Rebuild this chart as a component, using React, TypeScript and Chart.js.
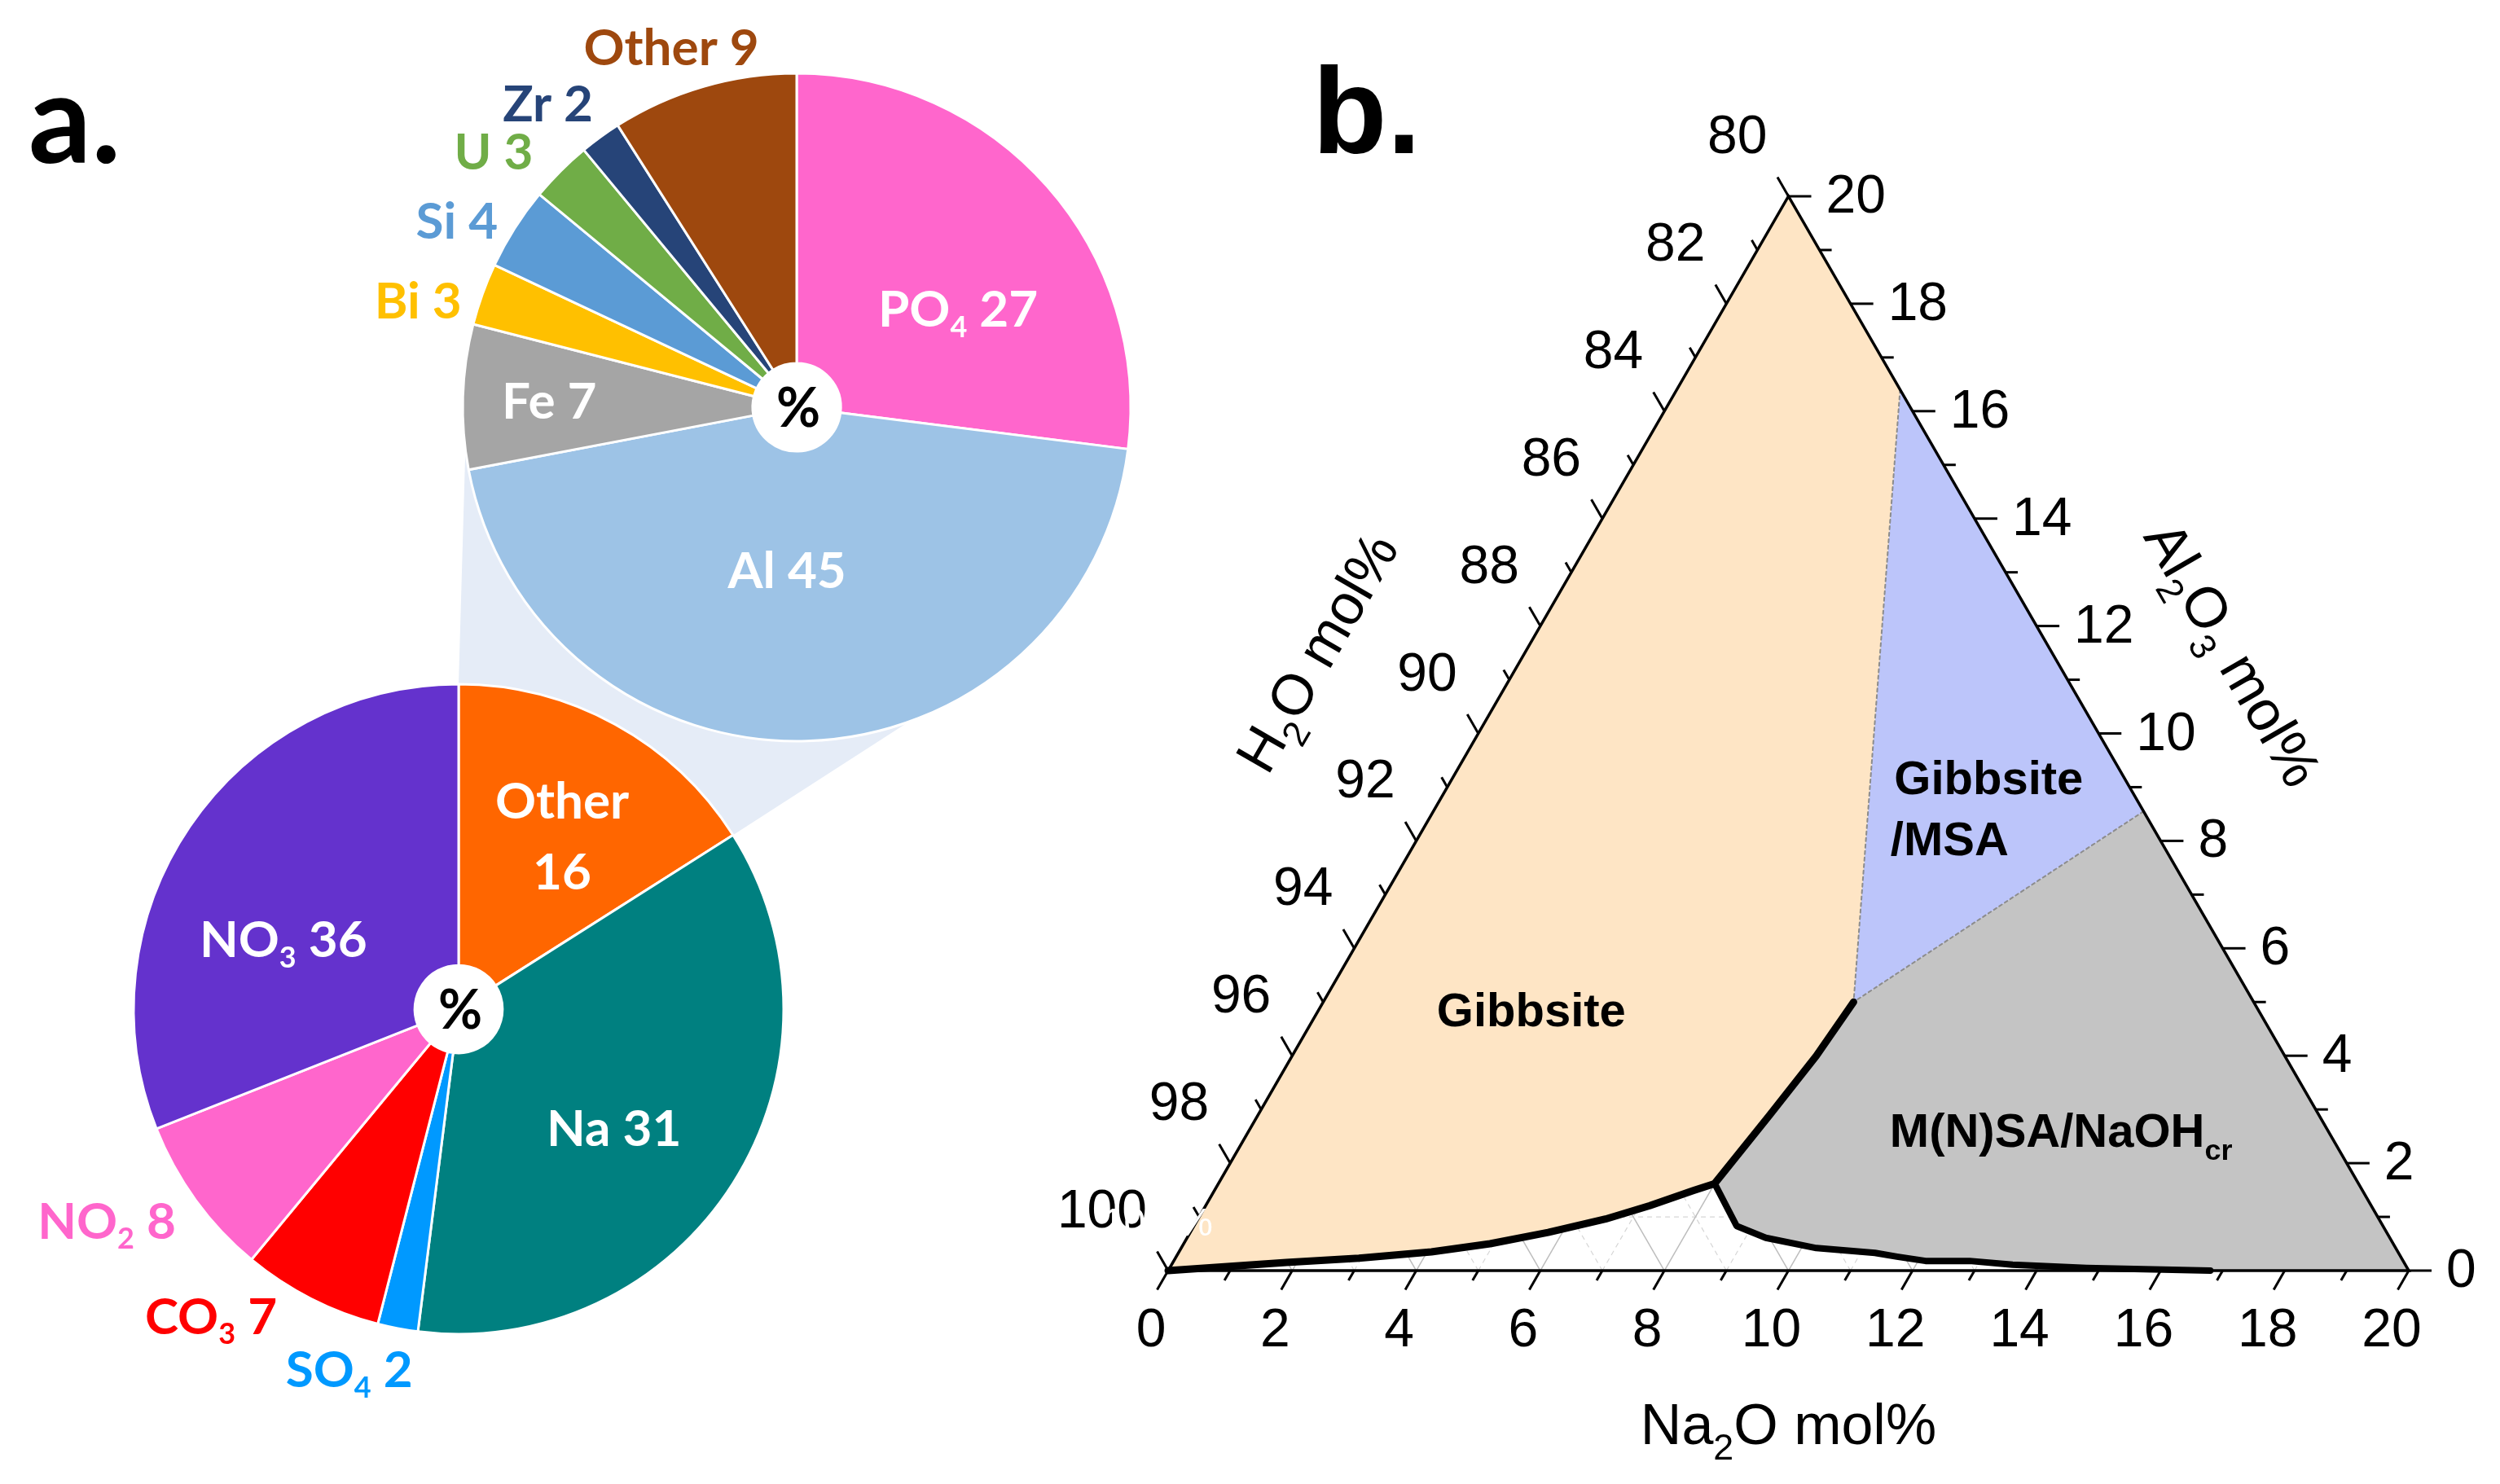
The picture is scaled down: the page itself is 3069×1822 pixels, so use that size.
import React, { useEffect, useRef } from 'react';
import { Chart, registerables } from 'chart.js';

Chart.register(...registerables);

/* ================= panel a : composition pies (values in %) ================= */
const topCategories = ['PO4', 'Al', 'Fe', 'Bi', 'Si', 'U', 'Zr', 'Other'];
const topValues = [27, 45, 7, 3, 4, 3, 2, 9];
const topColors = ['#FF66CC', '#9DC3E6', '#A5A5A5', '#FFC000', '#5B9BD5', '#70AD47', '#264478', '#9E480E'];

const bottomCategories = ['Other', 'Na', 'SO4', 'CO3', 'NO2', 'NO3'];
// slice sizes as drawn in the reference picture
const bottomValues = [16, 36, 2, 7, 8, 31];
// numbers printed on the reference's labels (Na / NO3 appear swapped there)
const bottomPrinted = [16, 31, 2, 7, 8, 36];
const bottomColors = ['#FF6600', '#008080', '#0099FF', '#FF0000', '#FF66CC', '#6432CD'];

/* ================= panel b : ternary H2O - Na2O - Al2O3 (mol%) ================= */
const na2oTicks = [0, 2, 4, 6, 8, 10, 12, 14, 16, 18, 20];
const al2o3Ticks = [0, 2, 4, 6, 8, 10, 12, 14, 16, 18, 20];
const h2oTicks = [80, 82, 84, 86, 88, 90, 92, 94, 96, 98, 100];

// corners: H2O corner, Na2O corner, Al2O3 corner  (Na2O, Al2O3)
const cornerNa = [0, 20, 0];
const cornerAl = [0, 0, 20];
// gibbsite solubility boundary, H2O corner -> cusp
const gibbsiteLowNa = [0, 1.83, 2.96, 4.07, 4.94, 5.77, 6.57, 7.16, 7.72, 8.0];
const gibbsiteLowAl = [0, 0.15, 0.23, 0.35, 0.5, 0.71, 0.96, 1.21, 1.49, 1.62];
// cusp -> invariant point
const gibbsiteHighNa = [8.0, 8.25, 8.45, 8.55];
const gibbsiteHighAl = [1.62, 2.9, 4.0, 5.0];
// sodium aluminate / NaOH boundary, cusp -> Na2O axis
const naohNa = [8.0, 8.75, 9.33, 10.24, 11.23, 11.62, 12.12, 12.83, 13.56, 14.78, 16.8];
const naohAl = [1.62, 0.83, 0.61, 0.42, 0.33, 0.26, 0.18, 0.18, 0.11, 0.05, 0];
// dotted limits of the Gibbsite/MSA field: edge -> invariant point -> edge
const msaNa = [3.6, 8.55, 11.45];
const msaAl = [16.4, 5.0, 8.55];

/* ================= layout (page pixels) ================= */
const PAGE_W = 3069;
const PAGE_H = 1822;
const TOP_PIE = { cx: 978, cy: 500, r: 410, hole: '13.2%' };
const BOT_PIE = { cx: 563, cy: 1239, r: 399, hole: '13.5%' };
const TOP_CANVAS = { w: 1450, h: 1000 };
const BOT_CANVAS = { w: 1300, h: 1822 };
const TERN_CANVAS = { left: 1290, w: 1779, h: 1822 };
const TERN_AREA = { left: 1434, right: 2957, top: 241, bottom: 1560 };
const HALF = 450;

// label placement: [angle from 12 o'clock (deg, clockwise), radius fraction]
const topLabelPolar = [[58.6, 0.566], [183.4, 0.488], [271.5, 0.741], [285.8, 1.178], [298.8, 1.161], [310.2, 1.188], [320.7, 1.176], [340.8, 1.141]];
const topLabelInside = [true, true, true, false, false, false, false, false];
const bottomLabelPolar = [[30.8, 0.622], [127.4, 0.602], [196.9, 1.158], [218.9, 1.213], [239, 1.263], [291.8, 0.581]];
const bottomLabelInside = [true, true, false, false, false, true];
const CONNECTOR_TOP_ANGLES = [160.4, 280.6];

type Font = { family: string; weight: string; size: number; subScale: number; subDrop: number };
type Part = { t: string; sub?: boolean };

const LATO = 'Lato, "Open Sans", "DejaVu Sans", sans-serif';
const ARIAL = '"Liberation Sans", Arial, "DejaVu Sans", sans-serif';
const PIE_FONT: Font = { family: LATO, weight: 'bold', size: 62, subScale: 0.58, subDrop: 0.2 };
const TICK_FONT: Font = { family: ARIAL, weight: 'normal', size: 66, subScale: 0.64, subDrop: 0.27 };
const TITLE_FONT: Font = { family: ARIAL, weight: 'normal', size: 70, subScale: 0.64, subDrop: 0.27 };
const REGION_FONT: Font = { family: ARIAL, weight: 'bold', size: 58, subScale: 0.62, subDrop: 0.28 };

const fontStr = (f: Font, size: number) => `${f.weight} ${size}px ${f.family}`;

function chem(s: string): Part[] {
  const out: Part[] = [];
  for (let i = 0; i < s.length; i++) {
    const c = s[i];
    const sub = /\d/.test(c) && i > 0 && /[A-Za-z]/.test(s[i - 1]);
    const last = out[out.length - 1];
    if (last && !!last.sub === sub) last.t += c;
    else out.push({ t: c, sub });
  }
  return out;
}

function partsWidth(ctx: CanvasRenderingContext2D, parts: Part[], f: Font) {
  let w = 0;
  for (const p of parts) {
    ctx.font = fontStr(f, p.sub ? f.size * f.subScale : f.size);
    w += ctx.measureText(p.t).width;
  }
  return w;
}

function drawParts(ctx: CanvasRenderingContext2D, parts: Part[], x: number, y: number, f: Font, align: 'left' | 'center' | 'right') {
  const w = partsWidth(ctx, parts, f);
  let cx = align === 'center' ? x - w / 2 : align === 'right' ? x - w : x;
  ctx.textAlign = 'left';
  ctx.textBaseline = 'alphabetic';
  for (const p of parts) {
    ctx.font = fontStr(f, p.sub ? f.size * f.subScale : f.size);
    ctx.fillText(p.t, cx, y + (p.sub ? f.size * f.subDrop : 0));
    cx += ctx.measureText(p.t).width;
  }
}

function pieLabels(names: string[], printed: number[], colors: string[], polar: number[][], inside: boolean[], twoLine: number) {
  return {
    id: 'pieLabels',
    afterDatasetsDraw(chart: any) {
      const ctx: CanvasRenderingContext2D = chart.ctx;
      const a0 = chart.getDatasetMeta(0).data[0];
      const cx = a0.x;
      const cy = a0.y;
      const r = a0.outerRadius;
      const capMid = PIE_FONT.size * 0.358;
      ctx.save();
      names.forEach((name, i) => {
        const [deg, rf] = polar[i];
        const t = (deg * Math.PI) / 180;
        const px = cx + rf * r * Math.sin(t);
        const py = cy - rf * r * Math.cos(t);
        ctx.fillStyle = inside[i] ? '#FFFFFF' : colors[i];
        if (i === twoLine) {
          drawParts(ctx, chem(name), px, py - 43 + capMid, PIE_FONT, 'center');
          drawParts(ctx, [{ t: String(printed[i]) }], px, py + 44 + capMid, PIE_FONT, 'center');
        } else {
          drawParts(ctx, [...chem(name), { t: ' ' + printed[i] }], px, py + capMid, PIE_FONT, 'center');
        }
      });
      ctx.fillStyle = '#000000';
      drawParts(ctx, [{ t: '%' }], cx + 2, cy + 66 * 0.358, { ...PIE_FONT, size: 66 }, 'center');
      ctx.restore();
    },
  };
}

const connectorPlugin = {
  id: 'connector',
  beforeDatasetsDraw(chart: any) {
    const ctx: CanvasRenderingContext2D = chart.ctx;
    const a0 = chart.getDatasetMeta(0).data[0];
    const { x, y, outerRadius: r, startAngle: s, endAngle: e } = a0;
    const tpt = (deg: number) => {
      const t = (deg * Math.PI) / 180;
      return [TOP_PIE.cx + TOP_PIE.r * Math.sin(t), TOP_PIE.cy - TOP_PIE.r * Math.cos(t)];
    };
    const C = tpt(CONNECTOR_TOP_ANGLES[0]);
    const D = tpt(CONNECTOR_TOP_ANGLES[1]);
    ctx.save();
    ctx.fillStyle = '#E5ECF7';
    ctx.beginPath();
    ctx.moveTo(x + r * Math.cos(s), y + r * Math.sin(s));
    ctx.lineTo(x + r * Math.cos(e), y + r * Math.sin(e));
    ctx.lineTo(C[0], C[1]);
    ctx.lineTo(D[0], D[1]);
    ctx.closePath();
    ctx.fill();
    ctx.restore();
  },
  afterDraw(chart: any) {
    const ctx: CanvasRenderingContext2D = chart.ctx;
    ctx.save();
    ctx.fillStyle = '#000000';
    ctx.font = `bold 152px ${LATO}`;
    ctx.textAlign = 'left';
    ctx.textBaseline = 'alphabetic';
    ctx.fillText('a.', 35, 200);
    ctx.restore();
  },
};

/* ================= ternary helpers ================= */
const SQ3 = Math.sqrt(3);
const toXY = (na: number, al: number) => ({ x: na + al / 2, y: (al * SQ3) / 2 });
const series = (na: number[], al: number[]) => na.map((n, i) => toXY(n, al[i]));
function rev(a: any[]) {
  return a.slice().reverse();
}

const gibbsiteRegion = [
  toXY(cornerNa[0], cornerAl[0]),
  toXY(cornerNa[2], cornerAl[2]),
  toXY(msaNa[0], msaAl[0]),
  ...rev(series(gibbsiteHighNa, gibbsiteHighAl)),
  ...rev(series(gibbsiteLowNa, gibbsiteLowAl)),
];
const msaRegion = [toXY(msaNa[0], msaAl[0]), toXY(msaNa[2], msaAl[2]), toXY(msaNa[1], msaAl[1])];
const greyRegion = [
  toXY(msaNa[2], msaAl[2]),
  toXY(cornerNa[1], cornerAl[1]),
  ...rev(series(naohNa, naohAl)),
  ...series(gibbsiteHighNa, gibbsiteHighAl),
];
const gibbsiteCurve = [...series(gibbsiteLowNa, gibbsiteLowAl), ...series(gibbsiteHighNa, gibbsiteHighAl).slice(1)];
const naohCurve = series(naohNa, naohAl);
const msaLine = series(msaNa, msaAl);

// region names anchored at ternary (Na2O, Al2O3) positions (text baseline)
const regionTexts: { parts: Part[]; na: number; al: number; align: 'left' | 'center' }[] = [
  { parts: [{ t: 'Gibbsite' }], na: 3.58, al: 4.55, align: 'center' },
  { parts: [{ t: 'Gibbsite' }], na: 7.27, al: 8.87, align: 'left' },
  { parts: [{ t: '/MSA' }], na: 7.78, al: 7.73, align: 'left' },
  { parts: [{ t: 'M(N)SA/NaOH' }, { t: 'cr', sub: true }], na: 10.48, al: 2.305, align: 'left' },
];

function tpOf(chart: any) {
  const xs = chart.scales.x;
  const ys = chart.scales.y;
  return (na: number, al: number) => {
    const p = toXY(na, al);
    return { x: xs.getPixelForValue(p.x), y: ys.getPixelForValue(p.y) };
  };
}

const ternaryPlugin = {
  id: 'ternaryAxes',
  beforeDatasetsDraw(chart: any) {
    const ctx: CanvasRenderingContext2D = chart.ctx;
    const tp = tpOf(chart);
    const max = na2oTicks[na2oTicks.length - 1];
    const seg = (a: any, b: any) => {
      ctx.beginPath();
      ctx.moveTo(a.x, a.y);
      ctx.lineTo(b.x, b.y);
      ctx.stroke();
    };
    ctx.save();
    for (let k = 1; k < max; k++) {
      const major = na2oTicks.includes(k);
      ctx.strokeStyle = major ? '#BDBDBD' : '#D6D6D6';
      ctx.lineWidth = major ? 1.5 : 1.2;
      ctx.setLineDash(major ? [] : [6, 5]);
      seg(tp(k, 0), tp(k, max - k));
      seg(tp(0, k), tp(max - k, k));
      seg(tp(k, 0), tp(0, k));
    }
    ctx.restore();
  },
  afterDatasetsDraw(chart: any) {
    const ctx: CanvasRenderingContext2D = chart.ctx;
    const tp = tpOf(chart);
    const area = chart.chartArea;
    const max = na2oTicks[na2oTicks.length - 1];
    ctx.save();
    // triangle
    ctx.strokeStyle = '#000000';
    ctx.lineWidth = 3.5;
    ctx.lineJoin = 'miter';
    const c0 = tp(cornerNa[0], cornerAl[0]);
    const c1 = tp(cornerNa[1], cornerAl[1]);
    const c2 = tp(cornerNa[2], cornerAl[2]);
    ctx.beginPath();
    ctx.moveTo(c0.x, c0.y);
    ctx.lineTo(c1.x, c1.y);
    ctx.lineTo(c2.x, c2.y);
    ctx.closePath();
    ctx.stroke();

    // ticks
    ctx.lineWidth = 3;
    ctx.lineCap = 'butt';
    const tick = (b: any, dx: number, dy: number, len: number) => {
      ctx.beginPath();
      ctx.moveTo(b.x, b.y);
      ctx.lineTo(b.x + dx * len, b.y + dy * len);
      ctx.stroke();
    };
    for (let v = 0; v <= max; v++) {
      const major = na2oTicks.includes(v);
      const L = major ? 27 : 14;
      tick(tp(v, 0), -0.5, 0.866, L); // Na2O axis
      tick(tp(max - v, v), 1, 0, major ? 28 : 15); // Al2O3 axis
      tick(tp(0, v), -0.5, -0.866, L); // H2O axis
    }

    // tick labels
    ctx.fillStyle = '#000000';
    na2oTicks.forEach((v) => {
      const b = tp(v, 0);
      drawParts(ctx, [{ t: String(v) }], b.x - 21, b.y + 93, TICK_FONT, 'center');
    });
    al2o3Ticks.forEach((v) => {
      const b = tp(max - v, v);
      drawParts(ctx, [{ t: String(v) }], b.x + 46, b.y + 20, TICK_FONT, 'left');
    });
    h2oTicks.forEach((h) => {
      const b = tp(0, 100 - h);
      drawParts(ctx, [{ t: String(h) }], b.x - 26, b.y - 53, TICK_FONT, 'right');
    });

    // axis titles
    const bm = tp(max / 2, 0);
    drawParts(ctx, chem('Na2O mol%'), bm.x, area.bottom + 213, TITLE_FONT, 'center');
    const lm = tp(0, max / 2);
    ctx.save();
    ctx.translate(lm.x - 199, lm.y - 100);
    ctx.rotate(-Math.PI / 3);
    drawParts(ctx, chem('H2O mol%'), 0, TITLE_FONT.size * 0.358, TITLE_FONT, 'center');
    ctx.restore();
    const rm = tp(max / 2, max / 2);
    ctx.save();
    ctx.translate(rm.x + 166, rm.y - 98);
    ctx.rotate(Math.PI / 3);
    drawParts(ctx, chem('Al2O3 mol%'), 0, TITLE_FONT.size * 0.358, TITLE_FONT, 'center');
    ctx.restore();

    // region names
    regionTexts.forEach((r) => {
      const p = tp(r.na, r.al);
      drawParts(ctx, r.parts, p.x, p.y, REGION_FONT, r.align);
    });

    // stray white glyphs next to the "100" label in the reference
    ctx.fillStyle = '#FFFFFF';
    ctx.font = `normal 48px ${ARIAL}`;
    ctx.textAlign = 'right';
    ctx.fillText('100 %', c0.x + 55, c0.y - 43);

    // panel letter
    ctx.fillStyle = '#000000';
    ctx.font = `bold 150px ${ARIAL}`;
    ctx.textAlign = 'left';
    ctx.fillText('b.', 1611 - TERN_CANVAS.left, 188);
    ctx.restore();
  },
};

function lineSet(data: any[], extra: any) {
  return {
    data,
    pointRadius: 0,
    tension: 0,
    clip: false,
    borderJoinStyle: 'round',
    borderCapStyle: 'round',
    ...extra,
  };
}

export default function App() {
  const refA = useRef<HTMLCanvasElement>(null);
  const refB = useRef<HTMLCanvasElement>(null);
  const refC = useRef<HTMLCanvasElement>(null);

  useEffect(() => {
    const charts: Chart[] = [];
    const common = {
      animation: false as const,
      responsive: false,
      devicePixelRatio: 1,
      events: [] as any[],
      plugins: { legend: { display: false }, tooltip: { enabled: false } },
    };

    // bottom pie (+ connector band and panel letter)
    charts.push(
      new Chart(refA.current as HTMLCanvasElement, {
        type: 'doughnut',
        data: {
          labels: bottomCategories,
          datasets: [{ data: bottomValues, backgroundColor: bottomColors, borderColor: '#FFFFFF', borderWidth: 3 }],
        },
        options: {
          ...common,
          radius: BOT_PIE.r,
          cutout: BOT_PIE.hole,
          layout: {
            padding: {
              left: BOT_PIE.cx - HALF,
              right: BOT_CANVAS.w - BOT_PIE.cx - HALF,
              top: BOT_PIE.cy - HALF,
              bottom: BOT_CANVAS.h - BOT_PIE.cy - HALF,
            },
          },
        } as any,
        plugins: [connectorPlugin, pieLabels(bottomCategories, bottomPrinted, bottomColors, bottomLabelPolar, bottomLabelInside, 0)],
      })
    );

    // top pie
    charts.push(
      new Chart(refB.current as HTMLCanvasElement, {
        type: 'doughnut',
        data: {
          labels: topCategories,
          datasets: [{ data: topValues, backgroundColor: topColors, borderColor: '#FFFFFF', borderWidth: 3 }],
        },
        options: {
          ...common,
          radius: TOP_PIE.r,
          cutout: TOP_PIE.hole,
          layout: {
            padding: {
              left: TOP_PIE.cx - HALF,
              right: TOP_CANVAS.w - TOP_PIE.cx - HALF,
              top: TOP_PIE.cy - HALF,
              bottom: TOP_CANVAS.h - TOP_PIE.cy - HALF,
            },
          },
        } as any,
        plugins: [pieLabels(topCategories, topValues, topColors, topLabelPolar, topLabelInside, -1)],
      })
    );

    // ternary diagram
    const maxX = na2oTicks[na2oTicks.length - 1];
    charts.push(
      new Chart(refC.current as HTMLCanvasElement, {
        type: 'line',
        data: {
          datasets: [
            lineSet(gibbsiteCurve, { label: 'boundary', borderColor: '#000000', borderWidth: 9, fill: false, order: 1 }),
            lineSet(naohCurve, { label: 'boundary2', borderColor: '#000000', borderWidth: 8, fill: false, order: 1 }),
            lineSet(msaLine, { label: 'msa limit', borderColor: '#8C8C8C', borderWidth: 2, borderDash: [4, 4], fill: false, order: 3 }),
            lineSet(gibbsiteRegion, { label: 'Gibbsite', borderColor: 'rgba(0,0,0,0)', borderWidth: 0, backgroundColor: '#FEE5C5', fill: 'shape', order: 5 }),
            lineSet(msaRegion, { label: 'Gibbsite/MSA', borderColor: 'rgba(0,0,0,0)', borderWidth: 0, backgroundColor: '#BCC5FA', fill: 'shape', order: 5 }),
            lineSet(greyRegion, { label: 'M(N)SA/NaOHcr', borderColor: 'rgba(0,0,0,0)', borderWidth: 0, backgroundColor: '#C4C4C4', fill: 'shape', order: 5 }),
          ],
        },
        options: {
          ...common,
          layout: {
            padding: {
              left: TERN_AREA.left - TERN_CANVAS.left,
              right: TERN_CANVAS.left + TERN_CANVAS.w - TERN_AREA.right,
              top: TERN_AREA.top,
              bottom: TERN_CANVAS.h - TERN_AREA.bottom,
            },
          },
          scales: {
            x: { type: 'linear', min: 0, max: maxX, display: false },
            y: { type: 'linear', min: 0, max: (maxX * SQ3) / 2, display: false },
          },
        } as any,
        plugins: [ternaryPlugin],
      })
    );

    return () => charts.forEach((c) => c.destroy());
  }, []);

  return (
    <div style={{ position: 'absolute', left: 0, top: 0, width: PAGE_W, height: PAGE_H, background: '#FFFFFF', overflow: 'hidden' }}>
      <canvas ref={refA} width={BOT_CANVAS.w} height={BOT_CANVAS.h} style={{ position: 'absolute', left: 0, top: 0 }} />
      <canvas ref={refB} width={TOP_CANVAS.w} height={TOP_CANVAS.h} style={{ position: 'absolute', left: 0, top: 0 }} />
      <canvas ref={refC} width={TERN_CANVAS.w} height={TERN_CANVAS.h} style={{ position: 'absolute', left: TERN_CANVAS.left, top: 0 }} />
    </div>
  );
}
